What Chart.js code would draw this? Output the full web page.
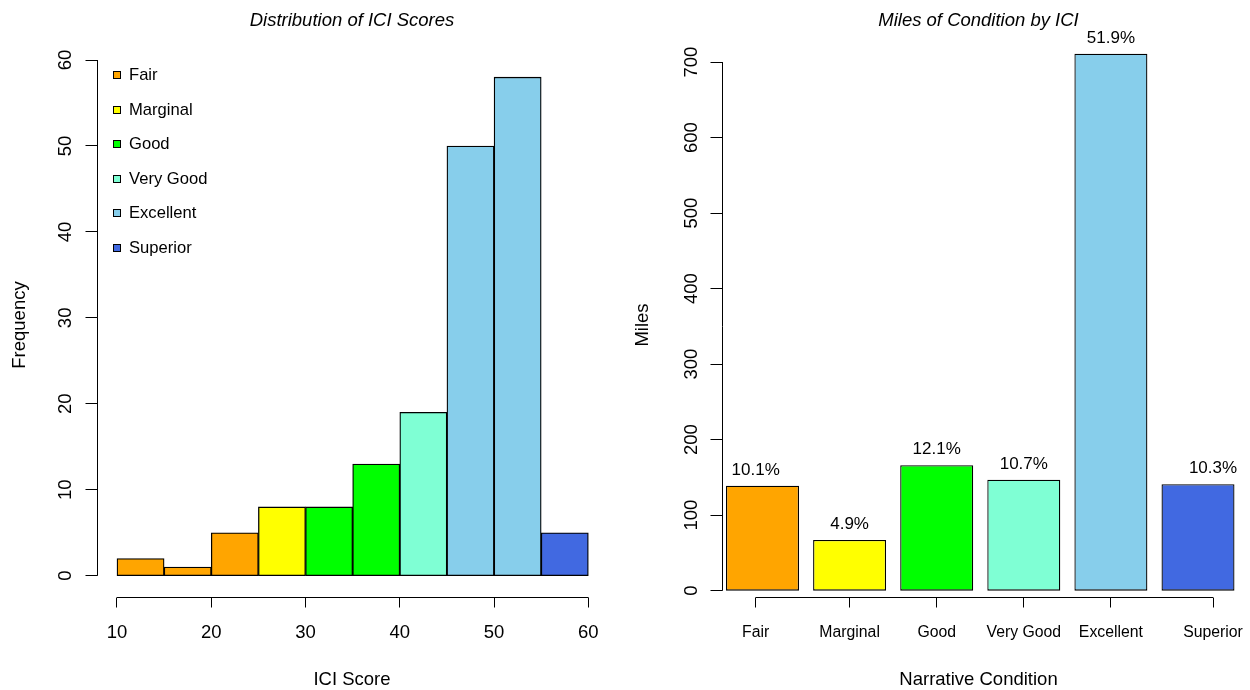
<!DOCTYPE html>
<html><head><meta charset="utf-8">
<script src="https://cdn.jsdelivr.net/npm/chart.js@4.4.1/dist/chart.umd.min.js"></script>
<style>
html,body{margin:0;padding:0;background:#fff;width:1250px;height:690px;overflow:hidden}
#wrapL{position:absolute;left:0;top:0;width:625px;height:690px}
#wrapR{position:absolute;left:625px;top:0;width:625px;height:690px}
canvas{display:block}
</style></head><body>
<div id="wrapL"><canvas id="left" width="625" height="690"></canvas></div>
<div id="wrapR"><canvas id="right" width="625" height="690"></canvas></div>
<script>
// ---------- data ----------
const conditionNames = ['Fair','Marginal','Good','Very Good','Excellent','Superior'];
const conditionColors = ['#FFA500','#FFFF00','#00FF00','#7FFFD4','#87CEEB','#4169E1'];
const binEdges = [10,15,20,25,30,35,40,45,50,55,60];
const binFrequency = [2,1,5,8,8,13,19,50,58,5];
const binCondition = ['Fair','Fair','Fair','Marginal','Good','Good','Very Good','Excellent','Excellent','Superior'];
const freqTicks = [0,10,20,30,40,50,60];
const scoreTicks = [10,20,30,40,50,60];
const conditionMiles = [139,67,166,147,711,141];
const milesTicks = [0,100,200,300,400,500,600,700];

// ---------- helpers ----------
const FAM = '"Liberation Sans", Arial, Helvetica, sans-serif';
const fnt = (s, it) => (it ? 'italic ' : '') + s + 'px ' + FAM;
const crisp = v => Math.floor(v) + 0.5;
function line(ctx, x1, y1, x2, y2){ ctx.beginPath(); ctx.moveTo(x1,y1); ctx.lineTo(x2,y2); ctx.stroke(); }
function text(ctx, s, x, y, f, rot){
  ctx.save(); ctx.font = f; ctx.textAlign = 'center'; ctx.textBaseline = 'middle';
  ctx.translate(x, y); if (rot) ctx.rotate(-Math.PI/2); ctx.fillText(s, 0, 0); ctx.restore();
}

// ---------- left: histogram ----------
const leftDecor = {
  id: 'leftDecor',
  afterDraw(chart){
    const ctx = chart.ctx, xs = chart.scales.x, ys = chart.scales.y, a = chart.chartArea;
    ctx.save();
    ctx.strokeStyle = '#000'; ctx.fillStyle = '#000'; ctx.lineWidth = 1;
    // y axis
    const ax = crisp(a.left);
    line(ctx, ax, ys.getPixelForValue(freqTicks[0]), ax, ys.getPixelForValue(freqTicks[freqTicks.length-1]));
    freqTicks.forEach(v => {
      const y = crisp(ys.getPixelForValue(v));
      line(ctx, ax - 12, y, ax, y);
      text(ctx, String(v), a.left - 31, ys.getPixelForValue(v), fnt(18.5), true);
    });
    // x axis
    const ay = crisp(a.bottom);
    line(ctx, xs.getPixelForValue(scoreTicks[0]), ay, xs.getPixelForValue(scoreTicks[scoreTicks.length-1]), ay);
    scoreTicks.forEach(v => {
      const x = crisp(xs.getPixelForValue(v));
      line(ctx, x, ay, x, ay + 10);
      text(ctx, String(v), xs.getPixelForValue(v), 633, fnt(18.5));
    });
    // titles
    const cx = (a.left + a.right) / 2;
    text(ctx, 'Distribution of ICI Scores', cx, 21, fnt(18.5, true));
    text(ctx, 'ICI Score', cx, 680, fnt(18.5));
    text(ctx, 'Frequency', 20, 325, fnt(18.5), true);
    // legend
    conditionNames.forEach((n, i) => {
      const yc = 74.5 + i * 34.5;
      const bx = Math.round(a.left + 16);
      ctx.fillStyle = conditionColors[i];
      ctx.fillRect(bx, Math.round(yc - 3.5), 7, 7);
      ctx.strokeStyle = '#000';
      ctx.strokeRect(bx + 0.5, Math.round(yc - 3.5) + 0.5, 7, 7);
      ctx.fillStyle = '#000';
      ctx.font = fnt(16.6); ctx.textAlign = 'left'; ctx.textBaseline = 'middle';
      ctx.fillText(n, a.left + 32, yc + 1);
    });
    ctx.restore();
  }
};

new Chart(document.getElementById('left'), {
  type: 'bar',
  data: {
    datasets: [{
      data: binFrequency.map((f, i) => ({ x: (binEdges[i] + binEdges[i+1]) / 2, y: f })),
      backgroundColor: binCondition.map(c => conditionColors[conditionNames.indexOf(c)]),
      borderColor: '#000', borderWidth: 1.3, borderSkipped: false,
      barPercentage: 1, categoryPercentage: 1
    }]
  },
  options: {
    responsive: false, animation: false, devicePixelRatio: 1,
    layout: { padding: { left: 97, right: 18, top: 57, bottom: 93 } },
    scales: {
      x: { type: 'linear', min: 7.88, max: 61.98, offset: false, display: false,
           afterBuildTicks: s => { s.ticks = binEdges.map(v => ({ value: v })); } },
      y: { type: 'linear', min: -2.478, max: 60.35, display: false }
    },
    plugins: { legend: { display: false }, tooltip: { enabled: false } }
  },
  plugins: [leftDecor]
});

// ---------- right: bar chart ----------
const nameNudge = [-6.8, 0, 0, 0, 0, 15];
const rightDecor = {
  id: 'rightDecor',
  afterDraw(chart){
    const ctx = chart.ctx, xs = chart.scales.x, ys = chart.scales.y, a = chart.chartArea;
    const meta = chart.getDatasetMeta(0);
    ctx.save();
    ctx.strokeStyle = '#000'; ctx.fillStyle = '#000'; ctx.lineWidth = 1;
    const ax = crisp(a.left + 4);
    line(ctx, ax, ys.getPixelForValue(milesTicks[0]), ax, ys.getPixelForValue(milesTicks[milesTicks.length-1]));
    milesTicks.forEach(v => {
      const y = crisp(ys.getPixelForValue(v));
      line(ctx, ax - 12, y, ax, y);
      text(ctx, String(v), ax - 31, ys.getPixelForValue(v), fnt(18.5), true);
    });
    const pos = conditionNames.map((n, i) => xs.getPixelForValue(i) + nameNudge[i]);
    const ay = crisp(a.bottom);
    line(ctx, pos[0], ay, pos[pos.length-1], ay);
    const total = conditionMiles.reduce((s, v) => s + v, 0);
    conditionNames.forEach((n, i) => {
      const x = crisp(pos[i]);
      line(ctx, x, ay, x, ay + 10);
      text(ctx, n, pos[i], 633, fnt(15.8));
      const pct = (conditionMiles[i] / total * 100).toFixed(1) + '%';
      text(ctx, pct, pos[i], ys.getPixelForValue(conditionMiles[i]) - 15.5, fnt(17));
    });
    const last = meta.data[meta.data.length - 1];
    const cx = (ax + last.x + last.width / 2) / 2;
    text(ctx, 'Miles of Condition by ICI', cx, 21, fnt(18.5, true));
    text(ctx, 'Narrative Condition', cx, 680, fnt(18.5));
    text(ctx, 'Miles', 18, 325, fnt(18.5), true);
    ctx.restore();
  }
};

new Chart(document.getElementById('right'), {
  type: 'bar',
  data: {
    labels: conditionNames,
    datasets: [{
      data: conditionMiles,
      backgroundColor: conditionColors,
      borderColor: '#000', borderWidth: 1.3, borderSkipped: false,
      barPercentage: 0.838, categoryPercentage: 1
    }]
  },
  options: {
    responsive: false, animation: false, devicePixelRatio: 1,
    layout: { padding: { left: 93.95, right: 8.45, top: 30, bottom: 93 } },
    scales: {
      x: { type: 'category', display: false },
      y: { type: 'linear', min: -8.4, max: 742.4, display: false }
    },
    plugins: { legend: { display: false }, tooltip: { enabled: false } }
  },
  plugins: [rightDecor]
});
</script>
</body></html>
